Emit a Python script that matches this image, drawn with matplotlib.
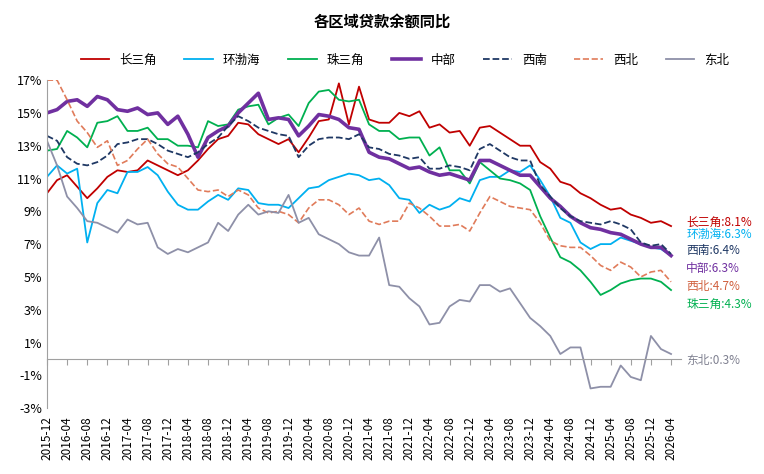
import numpy as np
import pandas as pd
import matplotlib
matplotlib.use("Agg")
import matplotlib.pyplot as plt

plt.rcParams['font.family'] = ['Noto Sans CJK SC', 'DejaVu Sans']
plt.rcParams['axes.unicode_minus'] = False

# bimonthly readings, 2015-12 .. 2026-04
dates = pd.date_range("2015-12-01", "2026-04-01", freq="2MS")

csj = [10.1, 10.9, 11.2, 10.5, 9.8, 10.4, 11.1, 11.5, 11.4, 11.5, 12.1, 11.8, 11.5, 11.2, 11.5, 12.1,
       12.8, 13.4, 13.6, 14.4, 14.3, 13.7, 13.4, 13.1, 13.4, 12.6, 13.5, 14.5, 14.6, 16.8, 14.3, 16.6, 14.6,
       14.4, 14.4, 15.0, 14.8, 15.1, 14.1, 14.3, 13.8, 13.9, 13.0, 14.1, 14.2, 13.8, 13.4, 13.0, 13.0,
       12.0, 11.6, 10.8, 10.6, 10.1, 9.8, 9.4, 9.1, 9.2, 8.8, 8.6, 8.3, 8.4, 8.1]
hbh = [11.1, 11.8, 11.3, 11.6, 7.1, 9.5, 10.3, 10.1, 11.4, 11.4, 11.7, 11.2, 10.2, 9.4, 9.1, 9.1,
       9.6, 10.0, 9.7, 10.4, 10.3, 9.5, 9.4, 9.4, 9.2, 9.8, 10.4, 10.5, 10.9, 11.1, 11.3, 11.2, 10.9,
       11.0, 10.6, 9.8, 9.7, 8.9, 9.4, 9.1, 9.3, 9.8, 9.6, 10.9, 11.1, 11.1, 11.5, 11.4, 11.8,
       10.9, 9.9, 8.6, 8.3, 7.1, 6.7, 7.0, 7.0, 7.4, 7.2, 7.0, 6.8, 6.7, 6.3]
zsj = [12.7, 12.8, 13.9, 13.5, 12.9, 14.4, 14.5, 14.8, 13.9, 13.9, 14.1, 13.4, 13.4, 13.0, 13.0, 12.9,
       14.5, 14.2, 14.3, 15.2, 15.4, 15.5, 14.3, 14.7, 14.9, 14.2, 15.6, 16.3, 16.4, 15.8, 15.7, 15.8, 14.3,
       13.9, 13.9, 13.4, 13.5, 13.5, 12.4, 12.9, 11.5, 11.5, 10.7, 12.0, 11.5, 11.0, 10.9, 10.7, 10.3,
       8.7, 7.4, 6.2, 5.9, 5.4, 4.7, 3.9, 4.2, 4.6, 4.8, 4.9, 4.9, 4.7, 4.2]
zb = [15.0, 15.2, 15.7, 15.8, 15.4, 16.0, 15.8, 15.2, 15.1, 15.3, 14.9, 15.0, 14.3, 14.8, 13.7, 12.3,
      13.5, 13.9, 14.2, 15.0, 15.6, 16.2, 14.6, 14.7, 14.6, 13.6, 14.2, 14.9, 14.8, 14.6, 14.1, 14.0, 12.6,
      12.3, 12.2, 11.9, 11.6, 11.7, 11.4, 11.2, 11.3, 11.1, 10.9, 12.1, 12.1, 11.8, 11.5, 11.2, 11.2,
      10.5, 9.8, 9.3, 8.7, 8.3, 8.0, 7.9, 7.7, 7.6, 7.3, 7.0, 6.8, 6.8, 6.3]
xn = [13.6, 13.3, 12.3, 11.9, 11.8, 12.0, 12.4, 13.1, 13.2, 13.4, 13.4, 13.1, 12.7, 12.5, 12.3, 12.6,
      13.1, 13.5, 14.2, 14.8, 14.5, 14.1, 13.9, 13.7, 13.6, 12.3, 13.0, 13.4, 13.5, 13.5, 13.4, 13.7, 12.9,
      12.8, 12.5, 12.4, 12.2, 12.3, 11.6, 11.6, 11.8, 11.7, 11.5, 12.8, 13.1, 12.7, 12.3, 12.1, 12.1,
      10.6, 9.9, 9.2, 8.7, 8.4, 8.3, 8.2, 8.4, 8.2, 7.9, 7.1, 6.9, 7.0, 6.4]
xb = [17.0, 17.0, 15.8, 14.5, 13.8, 12.9, 13.3, 11.8, 12.1, 12.8, 13.4, 12.5, 11.9, 11.7, 11.0, 10.3,
      10.2, 10.3, 9.9, 10.3, 10.0, 9.2, 8.9, 9.0, 8.8, 8.3, 9.2, 9.7, 9.7, 9.4, 8.8, 9.2, 8.4,
      8.2, 8.4, 8.4, 9.5, 9.2, 8.7, 8.1, 8.1, 8.2, 7.8, 8.9, 9.9, 9.6, 9.3, 9.2, 9.1,
      8.3, 7.2, 6.9, 6.8, 6.8, 6.3, 5.7, 5.4, 5.9, 5.6, 5.0, 5.3, 5.4, 4.7]
db = [13.3, 11.8, 9.9, 9.2, 8.4, 8.3, 8.0, 7.7, 8.5, 8.2, 8.3, 6.8, 6.4, 6.7, 6.5, 6.8,
      7.1, 8.3, 7.8, 8.8, 9.4, 8.8, 9.0, 8.9, 10.0, 8.3, 8.6, 7.6, 7.3, 7.0, 6.5, 6.3, 6.3,
      7.4, 4.5, 4.4, 3.7, 3.2, 2.1, 2.2, 3.2, 3.6, 3.5, 4.5, 4.5, 4.1, 4.3, 3.4, 2.5,
      2.0, 1.4, 0.3, 0.7, 0.7, -1.8, -1.7, -1.7, -0.4, -1.1, -1.3, 1.4, 0.6, 0.3]

names = ["长三角", "环渤海", "珠三角", "中部", "西南", "西北", "东北"]
series = [csj, hbh, zsj, zb, xn, xb, db]
colors = ["#C00000", "#00B0F0", "#00B050", "#7030A0", "#1F3864", "#E07B5A", "#8E90A8"]
styles = ["-", "-", "-", "-", "--", "--", "-"]
widths = [1.3, 1.3, 1.3, 2.6, 1.3, 1.2, 1.3]
end_labels = ["8.1%", "6.3%", "4.3%", "6.3%", "6.4%", "4.7%", "0.3%"]
label_y = [8.3, 7.6, 3.3, 5.5, 6.6, 4.4, -0.1]
label_colors = ["#C00000", "#00B0F0", "#00B050", "#7030A0", "#1F3864", "#D0603E", "#7F8090"]

months = np.arange(0, 125, 2)
tick_months = np.arange(0, 125, 4)
tick_labels = pd.date_range("2015-12-01", "2026-04-01", freq="4MS").strftime("%Y-%m")

fig = plt.figure(figsize=(7.64, 4.74), dpi=100)
ax = fig.add_axes([0.0615, 0.139, 0.83, 0.692])

for s, n, c, ls, lw in zip(series, names, colors, styles, widths):
    ax.plot(months, s, color=c, linestyle=ls, linewidth=lw, label=n)

ax.set_ylim(-3, 17)
ax.set_xlim(0, 126)
ax.set_yticks(np.arange(-3, 18, 2))
ax.set_yticklabels([f"{v}%" for v in range(-3, 18, 2)], fontsize=9)
ax.spines['top'].set_visible(False)
ax.spines['right'].set_visible(False)
ax.spines['left'].set_color('#A0A0A0')
ax.spines['bottom'].set_position(('data', 0))
ax.spines['bottom'].set_color('#A0A0A0')
ax.set_xticks(tick_months)
ax.tick_params(axis='x', labelbottom=False, length=4, color='#A0A0A0')
ax.tick_params(axis='y', length=0)
for m, t in zip(tick_months, tick_labels):
    ax.text(m, -0.025, t, transform=ax.get_xaxis_transform(), rotation=90,
            ha='center', va='top', fontsize=8.5)

for n, lab, ly, lc in zip(names, end_labels, label_y, label_colors):
    ax.text(127, ly, f"{n}:{lab}", color=lc, fontsize=8.5, va='center', clip_on=False)

fig.text(0.5, 0.955, "各区域贷款余额同比", ha='center', va='center', fontsize=11, fontweight='bold')
fig.legend(loc='center', bbox_to_anchor=(0.53, 0.873), ncol=7, frameon=False,
           fontsize=9, handlelength=2.3, columnspacing=2.2)

fig.savefig("out.png", dpi=100)
